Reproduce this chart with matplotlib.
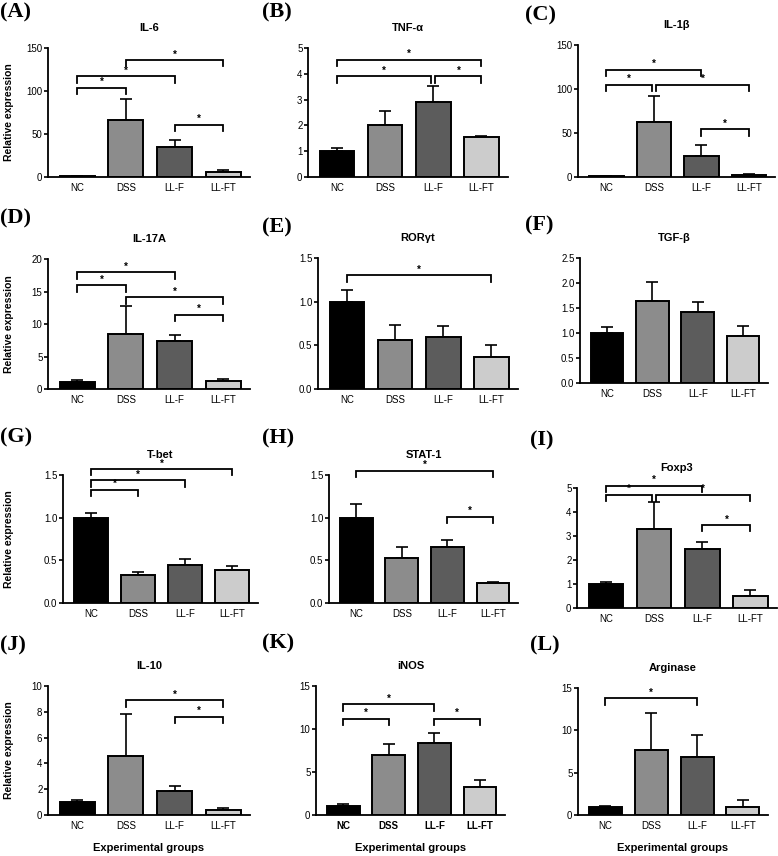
import matplotlib
matplotlib.use("Agg")
import matplotlib.pyplot as plt

plt.rcParams["font.family"] = ["Liberation Sans", "DejaVu Sans"]

W, H = 778, 856

groups = ["NC", "DSS", "LL-F", "LL-FT"]
bar_colors = ["#000000", "#8c8c8c", "#5c5c5c", "#cccccc"]

panel_letters = ["A", "B", "C", "D", "E", "F", "G", "H", "I", "J", "K", "L"]
titles = ["IL-6", "TNF-α", "IL-1β", "IL-17A", "RORγt", "TGF-β",
          "T-bet", "STAT-1", "Foxp3", "IL-10", "iNOS", "Arginase"]

# mean and upper SD of each group
means = [
    [1, 66, 35, 6],
    [1.0, 2.02, 2.92, 1.55],
    [1, 62, 24, 2],
    [1.1, 8.5, 7.4, 1.2],
    [1.0, 0.56, 0.59, 0.37],
    [1.0, 1.65, 1.43, 0.94],
    [1.0, 0.33, 0.45, 0.39],
    [1.0, 0.53, 0.66, 0.24],
    [1.0, 3.28, 2.47, 0.52],
    [1.0, 4.55, 1.88, 0.4],
    [1.0, 7.0, 8.35, 3.2],
    [1.0, 7.7, 6.9, 1.0],
]
sds = [
    [0.5, 25, 8, 2],
    [0.12, 0.53, 0.6, 0.03],
    [0.5, 30, 12.5, 1],
    [0.3, 4.2, 0.95, 0.4],
    [0.13, 0.17, 0.13, 0.13],
    [0.12, 0.38, 0.19, 0.2],
    [0.06, 0.03, 0.06, 0.04],
    [0.16, 0.13, 0.08, 0.01],
    [0.1, 1.12, 0.3, 0.21],
    [0.15, 3.3, 0.37, 0.15],
    [0.25, 1.2, 1.2, 0.85],
    [0.1, 4.4, 2.6, 0.8],
]
ymax = [150, 5, 150, 20, 1.5, 2.5, 1.5, 1.5, 5, 10, 15, 15]
ystep = [50, 1, 50, 5, 0.5, 0.5, 0.5, 0.5, 1, 2, 5, 5]
ydecimals = [0, 0, 0, 0, 1, 1, 1, 1, 0, 0, 0, 0]

# significance brackets: (group a, group b, height)
brackets = [
    [(0, 1, 104), (0, 2, 117), (1, 3, 136), (2, 3, 61)],
    [(0, 3, 4.55), (0, 2, 3.9), (2, 3, 3.9)],
    [(0, 2, 122), (0, 1, 105), (1, 3, 105), (2, 3, 54)],
    [(0, 2, 18.0), (0, 1, 16.0), (1, 3, 14.1), (2, 3, 11.4)],
    [(0, 3, 1.30)],
    [],
    [(0, 3, 1.57), (0, 2, 1.44), (0, 1, 1.33)],
    [(0, 3, 1.55), (2, 3, 1.01)],
    [(0, 2, 5.1), (0, 1, 4.72), (1, 3, 4.72), (2, 3, 3.46)],
    [(1, 3, 8.9), (2, 3, 7.6)],
    [(0, 2, 12.9), (0, 1, 11.2), (2, 3, 11.2)],
    [(0, 2, 13.8)],
]

# axes boxes in pixels: left, top, right, zero line
boxes = [
    (48, 48, 250, 177), (308, 48, 508, 177), (578, 45, 775, 177),
    (48, 259, 250, 389), (318, 258, 518, 389), (580, 258, 768, 383),
    (63, 475, 258, 603), (329, 475, 518, 603), (577, 488, 777, 608),
    (48, 686, 250, 815), (316, 686, 505, 815), (578, 688, 768, 815),
]
letter_pos = [(0, 12), (262, 12), (525, 15), (0, 218), (262, 227), (525, 225),
              (0, 437), (262, 438), (530, 440), (0, 645), (262, 643), (530, 645)]

fig = plt.figure(figsize=(W / 100, H / 100), dpi=100)

for k in range(12):
    l, t, r, b = boxes[k]
    ax = fig.add_axes([l / W, 1 - b / H, (r - l) / W, (b - t) / H])
    x = range(4)
    ax.bar(x, means[k], width=0.72, color=bar_colors, edgecolor="black",
           linewidth=1.4, zorder=2)
    ax.errorbar(x, means[k], yerr=[[0] * 4, sds[k]], fmt="none",
                ecolor="black", elinewidth=1.2, capsize=4, capthick=1.2, zorder=1)
    ax.set_xlim(-0.6, 3.55)
    ax.set_ylim(0, ymax[k])
    n = int(round(ymax[k] / ystep[k]))
    ticks = [i * ystep[k] for i in range(n + 1)]
    ax.set_yticks(ticks)
    ax.set_yticklabels([f"{v:.{ydecimals[k]}f}" for v in ticks], fontsize=7)
    ax.set_xticks(list(x))
    bold = "bold" if k == 10 else "normal"
    ax.set_xticklabels(groups, fontsize=7, fontweight=bold)
    ax.tick_params(axis="x", length=0, pad=4)
    ax.tick_params(axis="y", length=3, width=1.2, pad=1)
    for s in ["top", "right"]:
        ax.spines[s].set_visible(False)
    for s in ["left", "bottom"]:
        ax.spines[s].set_linewidth(1.3)

    drop = ymax[k] * 0.05
    for a, bb, yb in brackets[k]:
        xa = a + (0.04 if any(o[1] == a and o[2] == yb for o in brackets[k]) else 0)
        xb = bb - (0.04 if any(o[0] == bb and o[2] == yb for o in brackets[k]) else 0)
        ax.plot([xa, xa, xb, xb], [yb - drop, yb, yb, yb - drop], color="black",
                lw=1.3, clip_on=False, solid_joinstyle="miter")
        ax.text((xa + xb) / 2, yb + ymax[k] * 0.005, "*", ha="center", va="bottom",
                fontsize=7, fontweight="bold", clip_on=False)

    cx = (l + r) / 2 / W
    fig.text(cx, 1 - (t - 20) / H, titles[k], ha="center", va="center",
             fontsize=8, fontweight="bold")
    lx, ly = letter_pos[k]
    fig.text(lx / W, 1 - ly / H, f"({panel_letters[k]})", ha="left", va="center",
             fontsize=16, fontweight="bold", family="Liberation Serif")
    if k % 3 == 0:
        fig.text(9 / W, 1 - (t + b) / 2 / H, "Relative expression", rotation=90,
                 ha="center", va="center", fontsize=7.5, fontweight="bold")
    if k >= 9:
        fig.text(cx, 1 - 848 / H, "Experimental groups", ha="center",
                 va="center", fontsize=8, fontweight="bold")

fig.savefig("out.png", dpi=100)
